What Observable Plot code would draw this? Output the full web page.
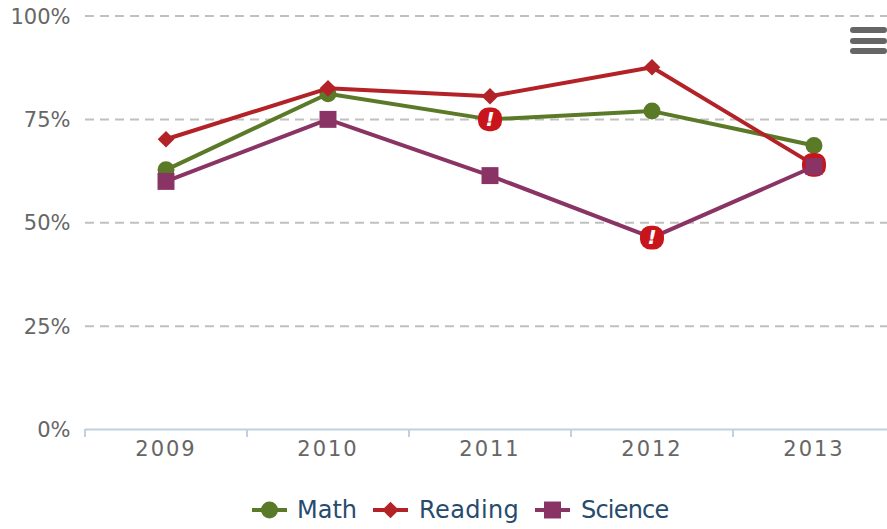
<!DOCTYPE html>
<html>
<head>
<meta charset="utf-8">
<script src="https://cdn.jsdelivr.net/npm/d3@7"></script>
<script src="https://cdn.jsdelivr.net/npm/@observablehq/plot@0.6"></script>
<style>
html,body{margin:0;padding:0;background:#fff;width:887px;height:529px;overflow:hidden}
#wrap{position:relative;width:887px;height:529px}
#menu{position:absolute;left:850px;top:27px;width:37px}
#menu div{height:6px;border-radius:3px;background:#666;margin-bottom:4.5px}
#legend{position:absolute;left:0;top:492px;width:887px;height:36px;font:24px "DejaVu Sans",sans-serif;color:#274b6d}
#legend span{position:absolute;top:2px;line-height:32px;white-space:nowrap}
#legend svg{position:absolute;top:0}
svg text{font-family:"DejaVu Sans",sans-serif}
g[aria-label="x-axis tick label"]{letter-spacing:2px}
</style>
</head>
<body>
<div id="wrap">
<div id="chart"></div>
<div id="menu"><div></div><div></div><div></div></div>
<div id="legend"></div>
</div>
<script>
const years = [2009, 2010, 2011, 2012, 2013];
const tickEdges = [2008.5, 2009.5, 2010.5, 2011.5, 2012.5];
const yTicks = [0, 25, 50, 75, 100];
const math = [62.8, 81.2, 75, 77, 68.7];
const reading = [70.2, 82.5, 80.6, 87.6, 64];
const science = [60, 75, 61.4, 46.4, 63.6];
const seriesNames = ["Math", "Reading", "Science"];
const seriesColors = ["#5a7a28", "#b22226", "#893464"];
const seriesSymbols = ["circle", "diamond2", "square2"];
const seriesRadii = [8.5, 7.5, 10.8];
const legendSpacing = [0, 0.4, -0.8];
const alerts = [[2011, 75, "Math"], [2013, 64, "Reading"], [2012, 46.4, "Science"]];

// squircle used for the red alert badges
const badge = {
  draw(ctx, size) {
    const h = Math.sqrt(size) / 2, c = h * 0.85;
    ctx.moveTo(-h + c, -h);
    ctx.arcTo(h, -h, h, h, c);
    ctx.arcTo(h, h, -h, h, c);
    ctx.arcTo(-h, h, -h, -h, c);
    ctx.arcTo(-h, -h, h, -h, c);
    ctx.closePath();
  }
};

const values = [math, reading, science];
const marks = [
  Plot.ruleY(yTicks.filter(d => d > 0), {stroke: "#c0c0c0", strokeWidth: 2, strokeDasharray: "9,6"}),
  Plot.ruleY([0], {stroke: "#c0d0e0", strokeWidth: 2}),
  Plot.axisX(tickEdges, {tickSize: 8, stroke: "#c0d0e0", strokeWidth: 2, tickFormat: () => "", label: null}),
  Plot.axisX(years, {tickSize: 0, tickPadding: 12, tickFormat: d => String(d), fontSize: 21, fill: "#666", label: null}),
  Plot.axisY(yTicks, {tickSize: 0, tickPadding: 15, tickFormat: d => d + "%", fontSize: 21, fill: "#666", label: null, dy: 1})
];
seriesNames.forEach((name, i) => {
  const rows = years.map((y, j) => ({year: y, value: values[i][j]}));
  const color = seriesColors[i];
  const al = alerts.filter(a => a[2] === name);
  const isAlert = d => al.some(a => a[0] === d.year);
  marks.push(Plot.line(rows, {x: "year", y: "value", stroke: color, strokeWidth: 4}));
  marks.push(Plot.dot(rows.filter(d => !isAlert(d)), {x: "year", y: "value", fill: color, symbol: () => seriesSymbols[i], r: seriesRadii[i], stroke: "none"}));
  marks.push(Plot.dot(al, {x: d => d[0], y: d => d[1], r: 13.5, symbol: () => badge, fill: "#c8151b", stroke: "none"}));
  if (name !== "Reading") marks.push(Plot.text(al, {x: d => d[0], y: d => d[1], text: () => "!", fill: "#fff", fontSize: 20, fontWeight: "bold", fontStyle: "italic"}));
});

const plot = Plot.plot({
  width: 887, height: 490,
  marginLeft: 85, marginRight: 0, marginTop: 15, marginBottom: 61,
  style: {background: "#fff", overflow: "hidden"},
  x: {type: "linear", domain: [2008.5, 2013.5], range: [84.5, 894.5], axis: null},
  y: {domain: [0, 100], range: [429, 15.5], axis: null},
  marks
});
document.getElementById("chart").appendChild(plot);

const legend = document.getElementById("legend");
const swatchX = [252, 373, 535];
const textX = [297, 419, 581];
seriesNames.forEach((name, i) => {
  const s = d3.create("svg").attr("width", 36).attr("height", 36).style("left", swatchX[i] + "px");
  s.append("line").attr("x1", 0).attr("x2", 35).attr("y1", 18).attr("y2", 18).attr("stroke", seriesColors[i]).attr("stroke-width", 4);
  const sym = [d3.symbolCircle, d3.symbolDiamond2, d3.symbolSquare2][i];
  s.append("path").attr("transform", "translate(17.5,18)").attr("fill", seriesColors[i])
    .attr("d", d3.symbol(sym, Math.PI * seriesRadii[i] * seriesRadii[i])());
  legend.appendChild(s.node());
  const t = document.createElement("span");
  t.textContent = name;
  t.style.left = textX[i] + "px";
  t.style.letterSpacing = legendSpacing[i] + "px";
  legend.appendChild(t);
});
</script>
</body>
</html>
